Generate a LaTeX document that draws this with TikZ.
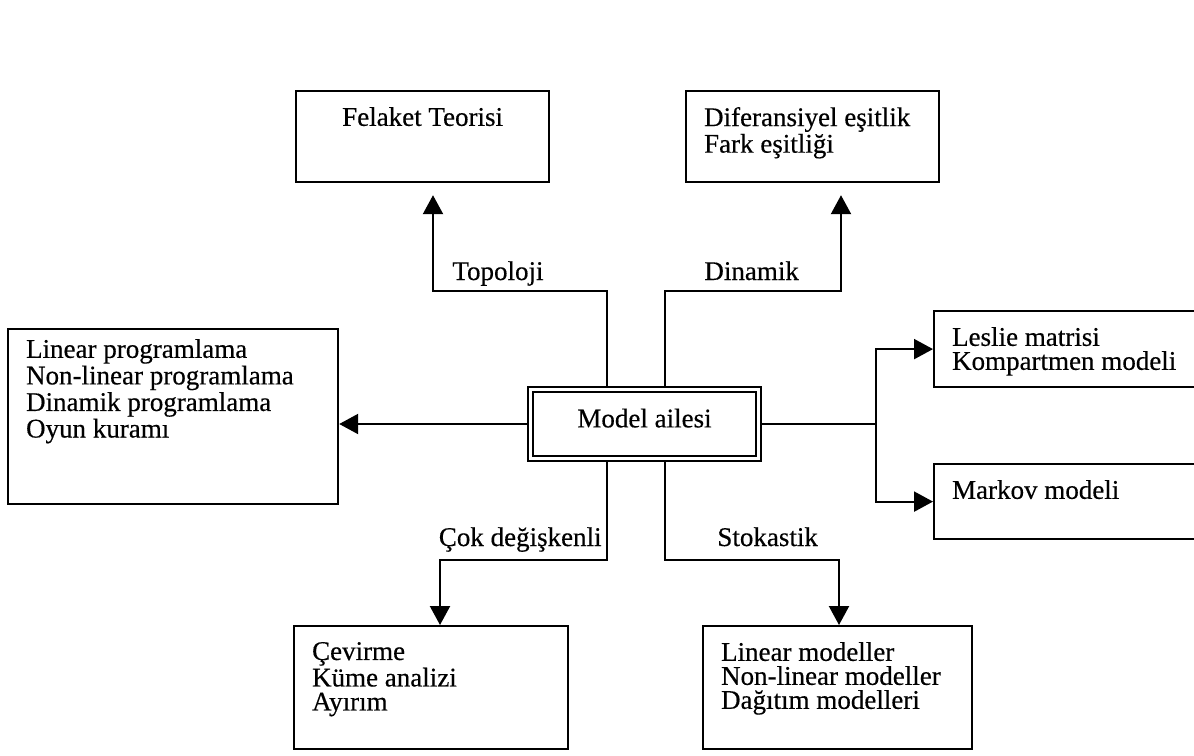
\documentclass[tikz,border=0pt]{standalone}
\usepackage{fontspec}
\setmainfont{Liberation Serif}[FakeBold=0.4]
\usetikzlibrary{arrows.meta,calc}
\newcommand{\yazi}{\fontsize{13.5}{12}\selectfont}
\tikzset{
  kutu/.style 2 args={draw, line width=1.1pt, anchor=north west, inner xsep=9pt, inner ysep=8pt,
                      execute at begin node={\begin{minipage}[t][#2][t]{#1}\yazi\raggedright},
                      execute at end node={\end{minipage}}},
  ana/.style    ={draw, double, line width=1pt, double distance=1.5pt, outer sep=1.75pt,
                  minimum width=114pt, minimum height=34.6pt, inner sep=0pt, text depth=6pt},
  ok/.style     ={-{Triangle[length=9.5pt,width=10pt]}, line width=1.1pt},
  cizgi/.style  ={line width=1.1pt},
  etiket/.style ={inner sep=0pt, font=\yazi},
}

\begin{document}
\begin{tikzpicture}[x=0.5pt, y=-0.5pt, font=\yazi]
\useasboundingbox (0,0) rectangle (1194,755);

% merkez
\node[ana] (model) at (644.5,424) {Model ailesi};

% kutular
\node[kutu={108.5pt}{29.5pt}] (felaket) at (295,90) {\centering Felaket Teorisi\par};
\node[kutu={108.5pt}{29.5pt}] (difer) at (685,90) {Diferansiyel eşitlik\\ Fark eşitliği};
\node[kutu={147pt}{77.5pt}, inner ysep=5pt] (prog) at (7,328)
   {Linear programlama\\ Non-linear programlama\\ Dinamik programlama\\ Oyun kuramı};
\node[kutu={118pt}{22pt}] (leslie) at (933,310) {Leslie matrisi\\ Kompartmen modeli};
\node[kutu={118pt}{21.5pt}] (markov) at (933,463) {Markov modeli};
\node[kutu={119pt}{45.5pt}] (cevirme) at (293,625) {Çevirme\\ Küme analizi\\ Ayırım};
\node[kutu={116.5pt}{45.5pt}] (linmod) at (702,625)
   {Linear modeller\\ Non-linear modeller\\ Dağıtım modelleri};

% etiketler
\node[etiket, anchor=base west] (topo) at (452,280) {Topoloji};
\node[etiket, anchor=base west] (dina) at (704,280) {Dinamik};
\node[etiket, anchor=base east] (cok) at (602,546) {Çok değişkenli};
\node[etiket, anchor=base west] (stok) at (717,546) {Stokastik};

% kirilma noktalari
\coordinate (t1) at (607,291); \coordinate (t2) at (433,291);
\coordinate (d1) at (665,291); \coordinate (d2) at (841,291);
\coordinate (c1) at (607,560); \coordinate (c2) at (440,560);
\coordinate (s1) at (665,560); \coordinate (s2) at (839,560);
\coordinate (r1) at (876,424);

% baglantilar
\draw[ok, shorten >=6pt] (model.north -| t1) -- (t1) -- (t2) -- (t2 |- felaket.south);
\draw[ok, shorten >=6pt] (model.north -| d1) -- (d1) -- (d2) -- (d2 |- difer.south);
\draw[ok] (model.west) -- (prog.east |- model.west);
\draw[cizgi] (model.east) -- (r1);
\draw[ok] (r1) |- (leslie.west);
\draw[ok] (r1) |- (markov.west);
\draw[ok] (model.south -| c1) -- (c1) -- (c2) -- (c2 |- cevirme.north);
\draw[ok] (model.south -| s1) -- (s1) -- (s2) -- (s2 |- linmod.north);
\end{tikzpicture}
\end{document}
